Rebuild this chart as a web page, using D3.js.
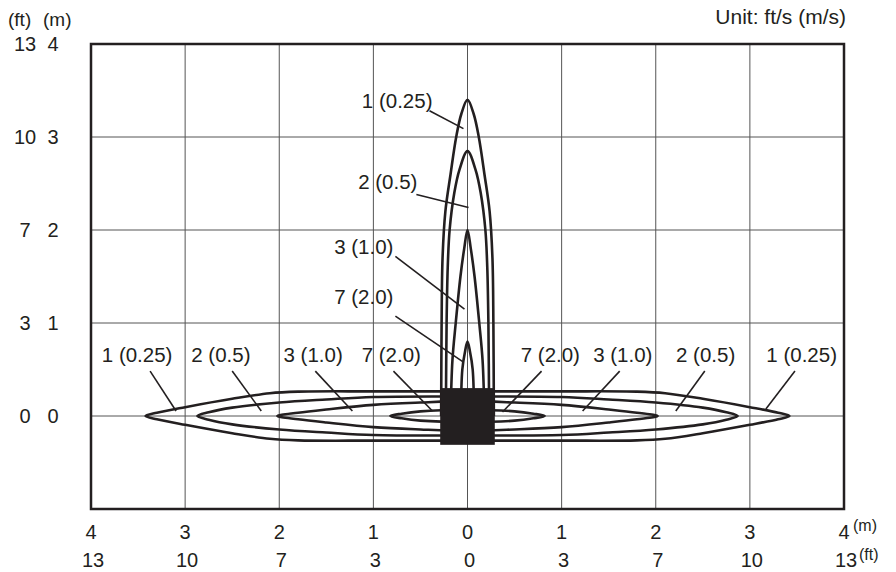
<!DOCTYPE html>
<html>
<head>
<meta charset="utf-8">
<script src="https://cdn.jsdelivr.net/npm/d3@7"></script>
<style>
  body { margin: 0; background: #fff; }
  svg { display: block; font-family: 'Liberation Sans', Arial, sans-serif; }
  text { fill: #231f20; }
</style>
</head>
<body>
<div id="chart"></div>
<script>
// ticks (metres, with the feet labels printed beside them)
const xTicks = [-4, -3, -2, -1, 0, 1, 2, 3, 4];
const xTickM = ['4', '3', '2', '1', '0', '1', '2', '3', '4'];
const xTickFt = ['13', '10', '7', '3', '0', '3', '7', '10', '13'];
const yGrid = [4, 3, 2, 1, 0, -1];
const yTicks = [4, 3, 2, 1, 0];
const yTickM = ['4', '3', '2', '1', '0'];
const yTickFt = ['13', '10', '7', '3', '0'];

const lobeNames = ['1 (0.25)', '2 (0.5)', '3 (1.0)', '7 (2.0)'];

// horizontal lobes: [distance from centre, half width] in metres
const hLobe1 = [[0, 0.265], [1.0, 0.265], [1.8, 0.262], [2.1, 0.245], [2.5, 0.185], [3.0, 0.095], [3.3, 0.035], [3.42, 0]];
const hLobe2 = [[0, 0.21], [1.0, 0.205], [1.5, 0.178], [2.0, 0.145], [2.5, 0.09], [2.75, 0.04], [2.87, 0]];
const hLobe3 = [[0, 0.16], [0.5, 0.145], [1.0, 0.12], [1.5, 0.07], [1.8, 0.035], [2.02, 0]];
const hLobe7 = [[0, 0.065], [0.5, 0.05], [0.7, 0.025], [0.82, 0]];

// vertical lobes: [height, half width] in metres
const vLobe1 = [[0, 0.28], [1.0, 0.275], [1.7, 0.265], [2.2, 0.235], [2.6, 0.18], [3.0, 0.12], [3.25, 0.065], [3.4, 0]];
const vLobe2 = [[0, 0.23], [1.0, 0.222], [1.6, 0.21], [2.0, 0.19], [2.4, 0.14], [2.65, 0.085], [2.85, 0]];
const vLobe3 = [[0, 0.18], [0.6, 0.16], [1.0, 0.125], [1.5, 0.075], [1.8, 0.035], [2.0, 0]];
const vLobe7 = [[0, 0.07], [0.5, 0.055], [0.7, 0.025], [0.8, 0]];

// sensor body
const sensorX = [-0.29, 0.29];
const sensorY = [-0.31, 0.3];

// labels: text anchor [x, y] and leader [x1, y1, x2, y2], metres
const vLabelPos = [[-0.372, 3.315], [-0.532, 2.436], [-0.787, 1.738], [-0.787, 1.2]];
const vLeaders = [
  [-0.404, 3.283, -0.043, 3.09],
  [-0.543, 2.382, 0.011, 2.242],
  [-0.766, 1.717, -0.032, 1.148],
  [-0.766, 1.073, -0.043, 0.579]
];
const leftLabelPos = [[-3.51, 0.58], [-2.62, 0.58], [-1.64, 0.58], [-0.81, 0.58]];
const leftLeaders = [
  [-3.372, 0.483, -3.096, 0.054],
  [-2.5, 0.483, -2.191, 0.054],
  [-1.617, 0.483, -1.223, 0.054],
  [-0.787, 0.483, -0.372, 0.054]
];
const rightLabelPos = [[3.55, 0.58], [2.53, 0.58], [1.65, 0.58], [0.88, 0.58]];
const rightLeaders = [
  [3.479, 0.483, 3.17, 0.075],
  [2.521, 0.483, 2.213, 0.054],
  [1.617, 0.483, 1.223, 0.054],
  [0.787, 0.483, 0.372, 0.043]
];

const width = 896;
const height = 572;
const margin = { top: 44, right: 52, bottom: 63, left: 91 };
const ink = '#231f20';

const x = d3.scaleLinear().domain([-4, 4]).range([margin.left, width - margin.right]);
const y = d3.scaleLinear().domain([-1, 4]).range([height - margin.bottom, margin.top]);

const svg = d3
  .select('#chart')
  .append('svg')
  .attr('width', width)
  .attr('height', height);

// Grid
const gGrid = svg.append('g').attr('stroke', '#555').attr('stroke-width', 1);
gGrid
  .selectAll('line.vx')
  .data(xTicks)
  .enter()
  .append('line')
  .attr('x1', d => x(d))
  .attr('x2', d => x(d))
  .attr('y1', y(-1))
  .attr('y2', y(4));
gGrid
  .selectAll('line.hy')
  .data(yGrid)
  .enter()
  .append('line')
  .attr('x1', x(-4))
  .attr('x2', x(4))
  .attr('y1', d => y(d))
  .attr('y2', d => y(d));

// Lobes
const lobeLineClosed = d3.line().curve(d3.curveCatmullRomClosed.alpha(0.5));
const lobeLineOpen = d3.line().curve(d3.curveCatmullRom.alpha(0.5));

function horizontalOutline(profile) {
  const back = profile.slice().reverse();
  const top = back.map(p => [x(-p[0]), y(p[1])]).concat(profile.slice(1).map(p => [x(p[0]), y(p[1])]));
  const bottom = back.slice(1).map(p => [x(p[0]), y(-p[1])]).concat(profile.slice(1, -1).map(p => [x(-p[0]), y(-p[1])]));
  return top.concat(bottom);
}

function verticalOutline(profile) {
  const back = profile.slice().reverse();
  return profile.map(p => [x(-p[1]), y(p[0])]).concat(back.slice(1).map(p => [x(p[1]), y(p[0])]));
}

const gLobes = svg
  .append('g')
  .attr('fill', 'none')
  .attr('stroke', ink)
  .attr('stroke-width', 2.6)
  .attr('stroke-linejoin', 'round');

gLobes
  .selectAll('path.h')
  .data([hLobe1, hLobe2, hLobe3, hLobe7])
  .enter()
  .append('path')
  .attr('d', d => lobeLineClosed(horizontalOutline(d)));

gLobes
  .selectAll('path.v')
  .data([vLobe1, vLobe2, vLobe3, vLobe7])
  .enter()
  .append('path')
  .attr('d', d => lobeLineOpen(verticalOutline(d)));

// Sensor
svg
  .append('rect')
  .attr('x', x(sensorX[0]))
  .attr('y', y(sensorY[1]))
  .attr('width', x(sensorX[1]) - x(sensorX[0]))
  .attr('height', y(sensorY[0]) - y(sensorY[1]))
  .attr('fill', ink);

// Frame
svg
  .append('rect')
  .attr('x', x(-4))
  .attr('y', y(4))
  .attr('width', x(4) - x(-4))
  .attr('height', y(-1) - y(4))
  .attr('fill', 'none')
  .attr('stroke', ink)
  .attr('stroke-width', 2.5);

// Leaders & labels
function addLabels(names, pos, leaders, anchor) {
  const g = svg.append('g');
  g.selectAll('line')
    .data(leaders)
    .enter()
    .append('line')
    .attr('x1', d => x(d[0]))
    .attr('y1', d => y(d[1]))
    .attr('x2', d => x(d[2]))
    .attr('y2', d => y(d[3]))
    .attr('stroke', ink)
    .attr('stroke-width', 1.6);
  g.selectAll('text')
    .data(names)
    .enter()
    .append('text')
    .attr('x', (d, i) => x(pos[i][0]))
    .attr('y', (d, i) => y(pos[i][1]))
    .attr('text-anchor', anchor)
    .attr('font-size', '20.5px')
    .text(d => d);
}

addLabels(lobeNames, vLabelPos, vLeaders, 'end');
addLabels(lobeNames, leftLabelPos, leftLeaders, 'middle');
addLabels(lobeNames, rightLabelPos, rightLeaders, 'middle');

// Axis labels
const gAxis = svg.append('g').attr('font-size', '20px').attr('text-anchor', 'middle');
gAxis
  .selectAll('text.xm')
  .data(xTicks)
  .enter()
  .append('text')
  .attr('x', d => x(d))
  .attr('y', 539)
  .text((d, i) => xTickM[i]);
gAxis
  .selectAll('text.xft')
  .data(xTicks)
  .enter()
  .append('text')
  .attr('x', d => x(d) + 2)
  .attr('y', 567)
  .text((d, i) => xTickFt[i]);
gAxis
  .selectAll('text.ym')
  .data(yTicks)
  .enter()
  .append('text')
  .attr('x', 53)
  .attr('y', d => y(d))
  .attr('dy', '0.35em')
  .text((d, i) => yTickM[i]);
gAxis
  .selectAll('text.yft')
  .data(yTicks)
  .enter()
  .append('text')
  .attr('x', 25)
  .attr('y', d => y(d))
  .attr('dy', '0.35em')
  .text((d, i) => yTickFt[i]);

// Units
svg.append('text').attr('x', 8).attr('y', 26).attr('font-size', '19px').text('(ft)');
svg.append('text').attr('x', 43).attr('y', 26).attr('font-size', '19px').text('(m)');
svg.append('text').attr('x', 853).attr('y', 531).attr('font-size', '16px').text('(m)');
svg.append('text').attr('x', 859).attr('y', 560).attr('font-size', '16px').text('(ft)');
svg
  .append('text')
  .attr('x', 846)
  .attr('y', 24)
  .attr('text-anchor', 'end')
  .attr('font-size', '21px')
  .text('Unit: ft/s (m/s)');
</script>
</body>
</html>
